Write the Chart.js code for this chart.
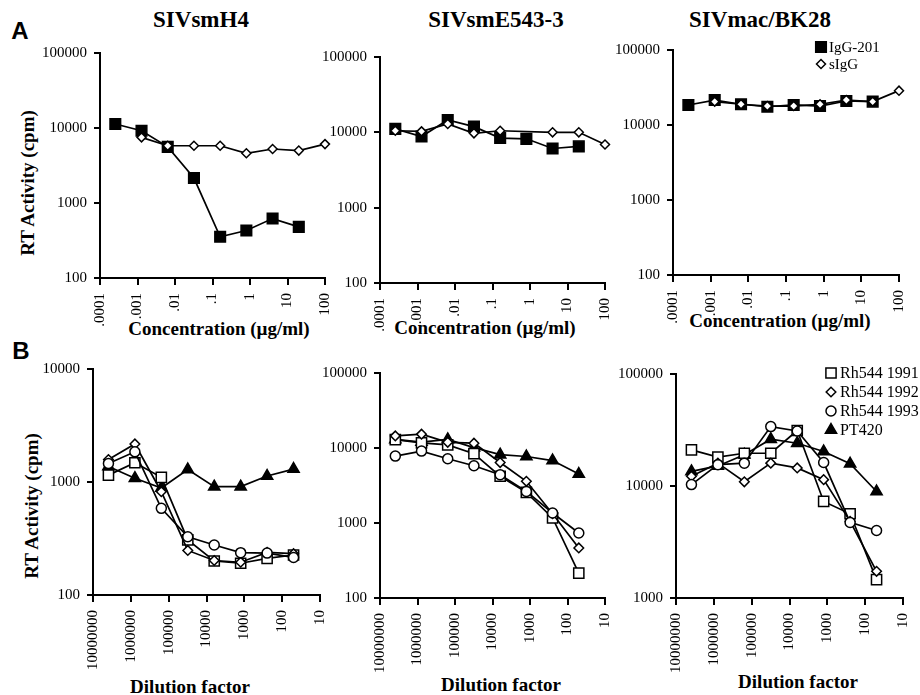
<!DOCTYPE html>
<html>
<head>
<meta charset="utf-8">
<script src="https://cdn.jsdelivr.net/npm/chart.js@4.4.1/dist/chart.umd.min.js"></script>
<style>
  body { margin: 0; width: 920px; height: 695px; background: #fff; position: relative; overflow: hidden; font-family: "Liberation Serif", "Times New Roman", serif; color: #000; }
  canvas { position: absolute; }
  .lbl { position: absolute; white-space: nowrap; transform: translate(-50%, -50%); font-weight: bold; }
  .title { font-size: 23px; }
  .axt { font-size: 19px; }
  .rot { transform: translate(-50%, -50%) rotate(-90deg); }
  .letter { font-family: "Liberation Sans", Arial, sans-serif; font-size: 24px; }
</style>
</head>
<body>

<div class="lbl letter" style="left:20px;top:31px">A</div>
<div class="lbl letter" style="left:21px;top:351px">B</div>
<div class="lbl title" style="left:201px;top:20px">SIVsmH4</div>
<div class="lbl title" style="left:496px;top:20px">SIVsmE543-3</div>
<div class="lbl title" style="left:760px;top:20px">SIVmac/BK28</div>
<div class="lbl axt rot" style="left:28px;top:183px">RT Activity (cpm)</div>
<div class="lbl axt rot" style="left:32px;top:506px">RT Activity (cpm)</div>
<div class="lbl axt" style="left:219px;top:329px">Concentration (µg/ml)</div>
<div class="lbl axt" style="left:485px;top:328px">Concentration (µg/ml)</div>
<div class="lbl axt" style="left:780px;top:321px">Concentration (µg/ml)</div>
<div class="lbl axt" style="left:190px;top:687px">Dilution factor</div>
<div class="lbl axt" style="left:501px;top:685px">Dilution factor</div>
<div class="lbl axt" style="left:798px;top:682px">Dilution factor</div>

<script>
// ---- data ----
const concentrations = [0.000256, 0.00128, 0.0064, 0.032, 0.16, 0.8, 4, 20, 100];
const concTicks = [0.0001, 0.001, 0.01, 0.1, 1, 10, 100];
const concTickLabels = ['.0001', '.001', '.01', '.1', '1', '10', '100'];

const dilutions = [3906250, 781250, 156250, 31250, 6250, 1250, 250, 50];
const dilutionTicks = [10000000, 1000000, 100000, 10000, 1000, 100, 10];
const dilutionTickLabels = ['10000000', '1000000', '100000', '10000', '1000', '100', '10'];

const rtTicks4 = [100, 1000, 10000, 100000];
const rtTicks3Low = [100, 1000, 10000];
const rtTicks3High = [1000, 10000, 100000];

// panel A (null = no marker at that concentration)
const h4IgG201 = [11300, 9200, 5600, 2150, 355, 430, 620, 480, null];
const h4sIgG = [null, 7500, 5800, 5800, 5800, 4600, 5250, 5000, 6100];
const e543IgG201 = [11100, 8800, 14600, 11900, 8400, 8200, 6100, 6500, null];
const e543sIgG = [10500, 10300, 12900, 9700, 10500, null, 10000, 10000, 6900];
const macIgG201 = [18500, 21500, 18900, 17500, 18500, 17900, 20900, 20500, null];
const macsIgG = [null, 20500, 18900, 17900, 17900, 18900, 21500, 20500, 28700];

// panel B
const h4Rh1991 = [1150, 1480, 1100, 307, 200, 191, 211, 226];
const h4Rh1992 = [1580, 2170, 820, 248, 202, 195, 238, 232];
const h4Rh1993 = [1460, 1850, 585, 328, 277, 237, 235, 215];
const h4PT420 = [1370, 1080, 885, 1290, 910, 910, 1130, 1300];

const e543Rh1991 = [12900, 11700, 11000, 8400, 4200, 2560, 1170, 215];
const e543Rh1992 = [14500, 15300, 11900, 11600, 6400, 3600, 1330, 465];
const e543Rh1993 = [7800, 9100, 7200, 5800, 4400, 2640, 1360, 735];
const e543PT420 = [13000, 12000, 13000, 10100, 8150, 7700, 6800, 4500];

const macRh1991 = [21000, 18100, 19600, 19600, 31300, 7280, 5650, 1460];
const macRh1992 = [12200, 16000, 10900, 16000, 14500, 11400, 4830, 1730];
const macRh1993 = [10300, 15500, 16000, 33900, 31000, 16200, 4730, 4010];
const macPT420 = [13500, 15100, 19000, 26200, 24100, 20300, 15800, 8930];

// ---- styles ----
const SERIF = '"Liberation Serif", "Times New Roman", serif';
const STY = {
  igg201: { label: 'IgG-201', pointStyle: 'rect', radius: 7.5, fill: '#000', order: 1 },
  sigg: { label: 'sIgG', pointStyle: 'rectRot', radius: 4.5, fill: '#fff', order: 0 },
  rh1991: { label: 'Rh544 1991', pointStyle: 'rect', radius: 7.2, fill: '#fff', order: 2 },
  rh1992: { label: 'Rh544 1992', pointStyle: 'rectRot', radius: 4.8, fill: '#fff', order: 1 },
  rh1993: { label: 'Rh544 1993', pointStyle: 'circle', radius: 5, fill: '#fff', order: 0 },
  pt420: { label: 'PT420', pointStyle: 'triangle', radius: 6.5, fill: '#000', order: 3 }
};

function series(style, xs, ys) {
  return {
    label: style.label,
    data: xs.map((x, i) => ({ x: x, y: ys[i] })),
    borderColor: '#000',
    borderWidth: 1.7,
    tension: 0,
    fill: false,
    spanGaps: true,
    clip: false,
    order: style.order,
    pointStyle: style.pointStyle,
    pointRadius: style.radius,
    pointBackgroundColor: style.fill,
    pointBorderColor: '#000',
    pointBorderWidth: 1.5
  };
}

function drawMarker(ctx, s, x, y) {
  const r = s.radius;
  ctx.beginPath();
  if (s.pointStyle === 'rect') {
    const h = r * Math.SQRT1_2;
    ctx.rect(x - h, y - h, 2 * h, 2 * h);
  } else if (s.pointStyle === 'rectRot') {
    ctx.moveTo(x, y - r); ctx.lineTo(x + r, y); ctx.lineTo(x, y + r); ctx.lineTo(x - r, y); ctx.closePath();
  } else if (s.pointStyle === 'circle') {
    ctx.arc(x, y, r, 0, Math.PI * 2);
  } else {
    ctx.moveTo(x, y - r); ctx.lineTo(x + r * 0.866, y + r * 0.5); ctx.lineTo(x - r * 0.866, y + r * 0.5); ctx.closePath();
  }
  ctx.fillStyle = s.fill;
  ctx.fill();
  ctx.lineWidth = 1.5;
  ctx.strokeStyle = '#000';
  ctx.stroke();
}

function logAxis(ticks, extra) {
  return Object.assign({
    type: 'logarithmic',
    min: Math.min(...ticks),
    max: Math.max(...ticks),
    afterBuildTicks: s => { s.ticks = ticks.map(v => ({ value: v })); },
    grid: { drawOnChartArea: false, drawTicks: true, tickLength: 6, color: '#000', lineWidth: 2 },
    border: { display: true, color: '#000', width: 2 }
  }, extra);
}

// box = page coords of the plot area: left/right/top/bottom
function panel(box, xTicks, xLabels, reverse, yTicks, datasets, legend) {
  const padL = 4, padT = 20, padR = 32, padB = 4, yW = 62, xH = 74;
  const w = padL + yW + (box.right - box.left) + padR;
  const h = padT + (box.bottom - box.top) + xH + padB;
  const offX = box.left - padL - yW, offY = box.top - padT;
  const cv = document.createElement('canvas');
  cv.width = w; cv.height = h;
  cv.style.width = w + 'px'; cv.style.height = h + 'px';
  cv.style.left = offX + 'px'; cv.style.top = offY + 'px';
  document.body.appendChild(cv);

  const legendPlugin = {
    id: 'ownLegend',
    afterDraw(chart) {
      if (!legend) return;
      const ctx = chart.ctx;
      ctx.save();
      ctx.font = legend.size + 'px ' + SERIF;
      ctx.textBaseline = 'middle';
      legend.items.forEach((s, i) => {
        const y = legend.y + i * legend.step - offY;
        drawMarker(ctx, s, legend.x - offX, y);
        ctx.fillStyle = '#000';
        ctx.fillText(s.label, legend.x + legend.gap - offX, y + 1);
      });
      ctx.restore();
    }
  };

  const tickFont = { family: SERIF, size: 15 };

  new Chart(cv, {
    type: 'line',
    data: { datasets: datasets },
    options: {
      responsive: false,
      animation: false,
      layout: { padding: { left: padL, top: padT, right: padR, bottom: padB } },
      plugins: { legend: { display: false }, tooltip: { enabled: false } },
      scales: {
        x: logAxis(xTicks, {
          reverse: reverse,
          afterFit: s => { s.height = xH; },
          ticks: {
            autoSkip: false, minRotation: 90, maxRotation: 90, padding: 8,
            color: '#000', font: tickFont,
            callback: v => xLabels[xTicks.indexOf(v)]
          },
          grid: { drawOnChartArea: false, drawTicks: true, tickLength: 7, color: '#000', lineWidth: 2 }
        }),
        y: logAxis(yTicks, {
          afterFit: s => { s.width = yW; },
          ticks: {
            autoSkip: false, padding: 7,
            color: '#000', font: tickFont,
            callback: v => String(v)
          }
        })
      }
    },
    plugins: [legendPlugin]
  });
}

function build() {
  // ---- panel A ----
  panel({ left: 100, right: 325, top: 53, bottom: 278 }, concTicks, concTickLabels, false, rtTicks4,
    [series(STY.igg201, concentrations, h4IgG201), series(STY.sigg, concentrations, h4sIgG)]);
  panel({ left: 380, right: 605, top: 57, bottom: 283 }, concTicks, concTickLabels, false, rtTicks4,
    [series(STY.igg201, concentrations, e543IgG201), series(STY.sigg, concentrations, e543sIgG)]);
  panel({ left: 673, right: 899, top: 50, bottom: 275 }, concTicks, concTickLabels, false, rtTicks4,
    [series(STY.igg201, concentrations, macIgG201), series(STY.sigg, concentrations, macsIgG)],
    { x: 821, y: 47, step: 17, gap: 8, size: 15, items: [STY.igg201, STY.sigg] });

  // ---- panel B ----
  const bSeries = (a, b, c, d) => [
    series(STY.rh1991, dilutions, a), series(STY.rh1992, dilutions, b),
    series(STY.rh1993, dilutions, c), series(STY.pt420, dilutions, d)
  ];
  panel({ left: 93, right: 320, top: 369, bottom: 595 }, dilutionTicks, dilutionTickLabels, true, rtTicks3Low,
    bSeries(h4Rh1991, h4Rh1992, h4Rh1993, h4PT420));
  panel({ left: 380, right: 605, top: 373, bottom: 598 }, dilutionTicks, dilutionTickLabels, true, rtTicks4,
    bSeries(e543Rh1991, e543Rh1992, e543Rh1993, e543PT420));
  panel({ left: 676, right: 903, top: 374, bottom: 598 }, dilutionTicks, dilutionTickLabels, true, rtTicks3High,
    bSeries(macRh1991, macRh1992, macRh1993, macPT420),
    { x: 831, y: 373, step: 19, gap: 9, size: 16, items: [STY.rh1991, STY.rh1992, STY.rh1993, STY.pt420] });
}

Promise.all([
  document.fonts.load('15px "Liberation Serif"'),
  document.fonts.load('16px "Liberation Serif"')
]).then(build, build);
</script>
</body>
</html>
